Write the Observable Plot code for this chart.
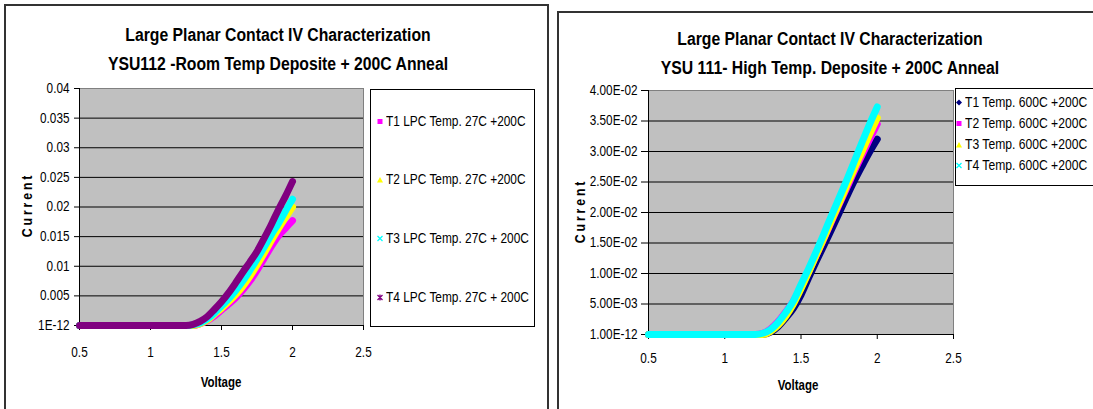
<!DOCTYPE html>
<html><head><meta charset="utf-8">
<script src="https://cdn.jsdelivr.net/npm/d3@7"></script>
<script src="https://cdn.jsdelivr.net/npm/@observablehq/plot@0.6"></script>
<style>
html,body{margin:0;padding:0;background:#fff;}
body{width:1093px;height:409px;overflow:hidden;position:relative;font-family:"Liberation Sans",Arial,sans-serif;color:#000;}
.panel{position:absolute;border:2px solid #333;box-sizing:border-box;background:#fff;}
.chart{position:absolute;top:0;}
.title{position:absolute;font-weight:bold;font-size:17.5px;line-height:18px;white-space:nowrap;transform:translateX(-50%) scaleX(0.9);}
.ylab{position:absolute;font-weight:bold;font-size:15px;letter-spacing:3.5px;white-space:nowrap;transform:translate(-50%,-50%) rotate(-90deg) scaleX(0.82);}
.xlab{position:absolute;font-weight:bold;font-size:14px;white-space:nowrap;transform:translate(-50%,-50%) scaleX(0.82);}
.legend{position:absolute;border:1px solid #000;background:#fff;box-sizing:border-box;}
.item{position:absolute;white-space:nowrap;line-height:15px;transform:translateY(-50%);display:flex;align-items:center;}
.item svg{margin-right:2px;flex:none;}
.item span{display:inline-block;transform:scaleX(0.82);transform-origin:0 50%;}
</style></head>
<body>
<div class="panel" style="left:4px;top:4px;width:545px;height:430px;"></div>
<div class="panel" style="left:557px;top:11px;width:560px;height:430px;"></div>
<div id="left" class="chart" style="left:0px;"></div>
<div id="right" class="chart" style="left:550px;"></div>
<div id="overlay"></div>
<script>
// ---------- data ----------
const voltage = [0.5, 0.7, 0.9, 1.1, 1.2, 1.25, 1.3, 1.35, 1.4, 1.45, 1.5, 1.55, 1.6, 1.65, 1.7, 1.75, 1.8, 1.85, 1.9, 1.95, 2.0];

// YSU112 - Room temp deposit + 200C anneal
const ysu112Names = ["T1 LPC Temp. 27C +200C", "T2 LPC Temp. 27C +200C", "T3 LPC Temp. 27C + 200C", "T4 LPC Temp. 27C + 200C"];
const ysu112Colors = ["#ff00ff", "#ffff00", "#00ffff", "#800080"];
const ysu112Symbols = ["square", "triangle", "x", "star"];
const ysu112T1 = [0, 0, 0, 0, 0, 0, 0, 0.0003, 0.0008, 0.0016, 0.0026, 0.0036, 0.0047, 0.0060, 0.0075, 0.0093, 0.0113, 0.0133, 0.0151, 0.0164, 0.0177];
const ysu112T2 = [0, 0, 0, 0, 0, 0, 0, 0.0003, 0.0009, 0.0019, 0.0029, 0.0040, 0.0052, 0.0066, 0.0083, 0.0102, 0.0122, 0.0143, 0.0163, 0.0182, 0.0200];
const ysu112T3 = [0, 0, 0, 0, 0, 0, 0.0001, 0.0004, 0.0011, 0.0021, 0.0033, 0.0045, 0.0059, 0.0075, 0.0093, 0.0112, 0.0132, 0.0153, 0.0172, 0.0193, 0.0213];
const ysu112T4 = [0, 0, 0, 0, 0, 0, 0.0002, 0.0007, 0.0015, 0.0027, 0.0040, 0.0055, 0.0072, 0.0090, 0.0107, 0.0125, 0.0147, 0.0170, 0.0195, 0.0218, 0.0243];

// YSU111 - High temp deposit + 200C anneal
const ysu111Names = ["T1 Temp. 600C +200C", "T2 Temp. 600C +200C", "T3 Temp. 600C +200C", "T4 Temp. 600C +200C"];
const ysu111Colors = ["#000080", "#ff00ff", "#ffff00", "#00ffff"];
const ysu111Symbols = ["diamond", "square", "triangle", "x"];
const ysu111T1 = [0, 0, 0, 0, 0, 0, 0.0004, 0.0013, 0.0027, 0.0043, 0.0065, 0.0093, 0.0120, 0.0146, 0.0172, 0.0199, 0.0226, 0.0252, 0.0276, 0.0299, 0.0320];
const ysu111T2 = [0, 0, 0, 0, 0, 0.0002, 0.0009, 0.0021, 0.0037, 0.0055, 0.0078, 0.0103, 0.0130, 0.0157, 0.0185, 0.0213, 0.0240, 0.0268, 0.0294, 0.0320, 0.0345];
const ysu111T3 = [0, 0, 0, 0, 0, 0, 0.0005, 0.0015, 0.0030, 0.0050, 0.0075, 0.0102, 0.0130, 0.0158, 0.0187, 0.0215, 0.0244, 0.0272, 0.0300, 0.0328, 0.0355];
const ysu111T4 = [0, 0, 0, 0, 0, 0.0002, 0.0008, 0.0020, 0.0036, 0.0055, 0.0082, 0.0108, 0.0136, 0.0165, 0.0195, 0.0224, 0.0253, 0.0284, 0.0315, 0.0345, 0.0373];

// axes
const xTicks = [0.5, 1, 1.5, 2, 2.5];
const xTickLabels = ["0.5", "1", "1.5", "2", "2.5"];
const yTicks = [0, 0.005, 0.01, 0.015, 0.02, 0.025, 0.03, 0.035, 0.04];
const yTickLabels112 = ["1E-12", "0.005", "0.01", "0.015", "0.02", "0.025", "0.03", "0.035", "0.04"];
const yTickLabels111 = ["1.00E-12", "5.00E-03", "1.00E-02", "1.50E-02", "2.00E-02", "2.50E-02", "3.00E-02", "3.50E-02", "4.00E-02"];

const titles112 = ["Large Planar Contact IV Characterization", "YSU112 -Room Temp Deposite + 200C Anneal"];
const titles111 = ["Large Planar Contact IV Characterization", "YSU 111- High Temp. Deposite + 200C Anneal"];
const xLabel = "Voltage";
const yLabel = "Current";

// ---------- drawing ----------
const FONT = '"Liberation Sans",Arial,sans-serif';

function table(vals, name) {
  return voltage.map((v, k) => ({v, i: vals[k], name}));
}

function makeChart(cfg) {
  const fmtY = d => cfg.yLabels[yTicks.indexOf(d)];
  const fmtX = d => xTickLabels[xTicks.indexOf(d)];
  const lines = cfg.series.map((s, k) =>
    Plot.line(table(s, cfg.names[k]), {x: "v", y: "i", stroke: cfg.colors[k], strokeWidth: 7, curve: "monotone-x"}));
  return Plot.plot({
    width: cfg.width, height: 409,
    marginLeft: cfg.ml, marginRight: cfg.mr, marginTop: cfg.mt, marginBottom: cfg.mb,
    x: {domain: [0.5, 2.5]},
    y: {domain: [0, 0.04]},
    style: {fontFamily: FONT, fontSize: "14px", color: "#000", background: "transparent", overflow: "visible"},
    marks: [
      Plot.frame({fill: "#c0c0c0", stroke: "#808080"}),
      Plot.gridY(yTicks.filter(d => d < 0.04), {stroke: "#000", strokeOpacity: 1}),
      Plot.ruleX([0.5], {stroke: "#000"}),
      Plot.ruleY([0], {stroke: "#000"}),
      Plot.axisY(yTicks, {tickFormat: fmtY, tickSize: cfg.yts, tickPadding: cfg.ytp, label: null, stroke: "#000"}),
      Plot.axisX(xTicks, {tickFormat: fmtX, tickSize: 5, tickPadding: cfg.xtp, label: null, stroke: "#000"}),
      ...lines
    ]
  });
}

function condense(el, k) {
  el.querySelectorAll("text").forEach(t => {
    const L = t.getComputedTextLength();
    if (L > 0) {
      t.setAttribute("textLength", (L * k).toFixed(2));
      t.setAttribute("lengthAdjust", "spacingAndGlyphs");
    }
  });
}

const leftEl = document.getElementById("left");
leftEl.append(makeChart({
  width: 550, ml: 79, mr: 187, mt: 88, mb: 84, yts: 5, ytp: 5, xtp: 17,
  yLabels: yTickLabels112, names: ysu112Names, colors: ysu112Colors,
  series: [ysu112T1, ysu112T2, ysu112T3, ysu112T4]
}));
const rightEl = document.getElementById("right");
rightEl.append(makeChart({
  width: 543, ml: 98, mr: 140, mt: 90, mb: 75, yts: 7, ytp: 4, xtp: 14,
  yLabels: yTickLabels111, names: ysu111Names, colors: ysu111Colors,
  series: [ysu111T1, ysu111T2, ysu111T3, ysu111T4]
}));
condense(leftEl, 0.84);
condense(rightEl, 0.84);

// ---------- text & legends ----------
const overlay = document.getElementById("overlay");
function add(cls, text, style) {
  const d = document.createElement("div");
  d.className = cls; d.textContent = text; d.style.cssText = style;
  overlay.append(d); return d;
}
add("title", titles112[0], "left:278px;top:26px;");
add("title", titles112[1], "left:278px;top:55px;");
add("title", titles111[0], "left:830px;top:30px;");
add("title", titles111[1], "left:830px;top:59px;");
add("ylab", yLabel, "left:26px;top:205px;");
add("ylab", yLabel, "left:579px;top:211px;");
add("xlab", xLabel, "left:221px;top:382px;");
add("xlab", xLabel, "left:798px;top:385px;");

function symbolSvg(sym, color) {
  const s = 8;
  let inner = "";
  if (sym === "square") inner = `<rect x="1.5" y="1.5" width="5" height="5" fill="${color}"/>`;
  else if (sym === "triangle") inner = `<path d="M4,1.5 L7,7 L1,7 Z" fill="${color}"/>`;
  else if (sym === "diamond") inner = `<path d="M4,1 L7,4 L4,7 L1,4 Z" fill="${color}"/>`;
  else if (sym === "x") inner = `<path d="M1.5,1.5 L6.5,6.5 M6.5,1.5 L1.5,6.5" stroke="${color}" stroke-width="1.3"/>`;
  else if (sym === "star") inner = `<path d="M1.5,1.5 L6.5,6.5 M6.5,1.5 L1.5,6.5 M4,1 L4,7" stroke="${color}" stroke-width="1.3"/>`;
  return `<svg width="${s}" height="${s}" viewBox="0 0 8 8">${inner}</svg>`;
}
function legend(box, names, colors, syms, ys, x, fs) {
  add("legend", "", box);
  names.forEach((n, k) => {
    const d = add("item", "", `left:${x}px;top:${ys[k]}px;font-size:${fs}px;`);
    d.innerHTML = symbolSvg(syms[k], colors[k]) + `<span>${n}</span>`;
  });
}
legend("left:370px;top:89px;width:165px;height:238px;", ysu112Names, ysu112Colors, ysu112Symbols, [121, 179, 238, 297], 376, 14.5);
legend("left:955px;top:88px;width:150px;height:98px;", ysu111Names, ysu111Colors, ysu111Symbols, [102, 123, 144, 165], 955, 14.8);
</script>
</body></html>
